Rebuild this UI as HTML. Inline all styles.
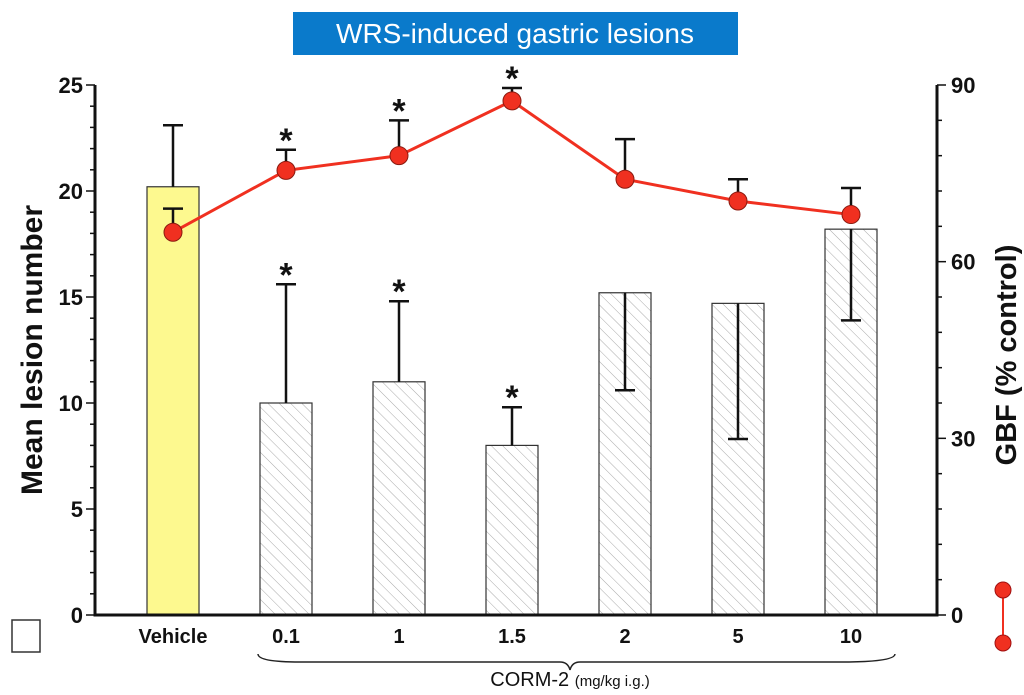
<!DOCTYPE html>
<html><head><meta charset="utf-8"><style>
body{margin:0;background:#fff;width:1024px;height:690px;overflow:hidden;font-family:"Liberation Sans",sans-serif}
</style></head><body>
<svg width="1024" height="690" viewBox="0 0 1024 690" xmlns="http://www.w3.org/2000/svg">
<defs>
<pattern id="hatch" patternUnits="userSpaceOnUse" width="8" height="8" patternTransform="rotate(-45)">
<rect width="8" height="8" fill="#fff"/><line x1="0" y1="0" x2="0" y2="8" stroke="#aaa" stroke-width="1"/>
</pattern>
</defs>
<rect x="293" y="12" width="445" height="43" fill="#0a7acb"/>
<text x="515" y="43" text-anchor="middle" fill="#fff" font-size="28">WRS-induced gastric lesions</text>
<g id="plot"></g>
<text transform="translate(42,350) rotate(-90)" text-anchor="middle" font-size="30" font-weight="bold" fill="#111">Mean lesion number</text>
<text transform="translate(1016,355) rotate(-90)" text-anchor="middle" font-size="29" font-weight="bold" fill="#111">GBF (% control)</text>
<rect x="12" y="620" width="28" height="32" fill="#fff" stroke="#333" stroke-width="1.5"/>
<g>
<line x1="1003" y1="590" x2="1003" y2="643" stroke="#f03020" stroke-width="2"/>
<circle cx="1003" cy="590" r="8" fill="#f03020" stroke="#a01010"/>
<circle cx="1003" cy="643" r="8" fill="#f03020" stroke="#a01010"/>
</g>
<path d="M258 654 Q258 662 300 662 L560 662 Q568 662 570 670 Q572 662 580 662 L840 662 Q895 662 895 654" fill="none" stroke="#222" stroke-width="1.5"/>
<text x="570" y="686" text-anchor="middle" font-size="20" fill="#111">CORM-2 <tspan font-size="15">(mg/kg i.g.)</tspan></text>
</svg>
<script>
const categories=["Vehicle","0.1","1","1.5","2","5","10"];
const lesionMean=[20.2,10,11,8,15.2,14.7,18.2];
const lesionErr=[23.1,15.6,14.8,9.8,10.6,8.3,13.9];
const lesionSig=[false,true,true,true,false,false,false];
const gbfMean=[65,75.5,78,87.3,74,70.3,68];
const gbfErr=[69,79,84,89.5,80.8,74,72.5];
const gbfSig=[false,true,true,true,false,false,false];
const leftTicks=[0,5,10,15,20,25];
const rightTicks=[0,30,60,90];

const NS="http://www.w3.org/2000/svg";
const g=document.getElementById('plot');
const x0=95,x1=937,yB=615,yT=85;
const yL=v=>yB-(v/25)*(yB-yT);
const yR=v=>yB-(v/90)*(yB-yT);
const xC=i=>173+i*113;
const bw=52;
function mk(t,a){const e=document.createElementNS(NS,t);for(const k in a)e.setAttribute(k,a[k]);g.appendChild(e);return e;}
categories.forEach((c,i)=>{
  const r=mk('rect',{x:xC(i)-bw/2,y:yL(lesionMean[i]),width:bw,height:yB-yL(lesionMean[i]),fill:i===0?'#fdf98f':'url(#hatch)',stroke:'#333','stroke-width':1.2});
  
  
  const e=mk('path',{d:`M${xC(i)} ${yL(lesionMean[i])}V${yL(lesionErr[i])}M${xC(i)-10} ${yL(lesionErr[i])}H${xC(i)+10}`,stroke:'#111','stroke-width':2.5,fill:'none'});
  
  
  if(lesionSig[i]){const s=mk('text',{x:xC(i),y:yL(lesionErr[i])+2,'text-anchor':'middle','font-size':34,'font-weight':'bold',fill:'#111'});s.textContent='*';
  
  }
  const l=mk('text',{x:xC(i),y:643,'text-anchor':'middle','font-size':20,'font-weight':'bold',fill:'#111'});l.textContent=c;
  
  
});
categories.forEach((c,i)=>{
  const e=mk('path',{d:`M${xC(i)} ${yR(gbfMean[i])}V${yR(gbfErr[i])}M${xC(i)-10} ${yR(gbfErr[i])}H${xC(i)+10}`,stroke:'#111','stroke-width':2.5,fill:'none'});
  
  
  if(gbfSig[i]){const s=mk('text',{x:xC(i),y:yR(gbfErr[i])+2,'text-anchor':'middle','font-size':34,'font-weight':'bold',fill:'#111'});s.textContent='*';
  
  }
});
const ln=mk('polyline',{points:categories.map((c,i)=>xC(i)+','+yR(gbfMean[i])).join(' '),fill:'none',stroke:'#f03020','stroke-width':3});


categories.forEach((c,i)=>{
  const p=mk('circle',{cx:xC(i),cy:yR(gbfMean[i]),r:9,fill:'#f03020',stroke:'#8a1a10','stroke-width':1});
  
  
});
const ax=mk('path',{d:`M${x0} ${yT}V${yB}H${x1}V${yT}`,fill:'none',stroke:'#111','stroke-width':3});


for(let v=0;v<=25;v++){mk('line',{x1:x0-(v%5?5:9),x2:x0,y1:yL(v),y2:yL(v),stroke:'#111','stroke-width':1.5});}
for(let v=0;v<=90;v+=6){mk('line',{x1:x1,x2:x1+(v%30?5:9),y1:yR(v),y2:yR(v),stroke:'#111','stroke-width':1.5});}
leftTicks.forEach(v=>{const t=mk('text',{x:x0-12,y:yL(v)+8,'text-anchor':'end','font-size':22,'font-weight':'bold',fill:'#111'});t.textContent=v;
  
  });
rightTicks.forEach(v=>{const t=mk('text',{x:x1+14,y:yR(v)+8,'text-anchor':'start','font-size':22,'font-weight':'bold',fill:'#111'});t.textContent=v;
  
  });
</script>
</body></html>
